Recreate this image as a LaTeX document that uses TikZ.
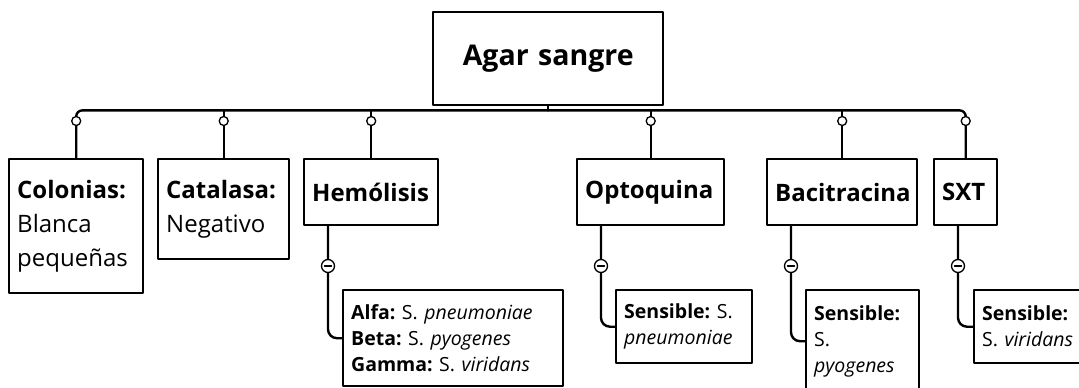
\documentclass[tikz,border=0pt]{standalone}
\usepackage{fontspec}
\setmainfont{Open Sans}
\usepackage{tikz}
\usetikzlibrary{calc}
\frenchspacing

\begin{document}
\begin{tikzpicture}[line cap=round,line join=round,x=1pt,y=-1pt,
  box/.style={draw,line width=2.4pt,anchor=north west,align=left,inner ysep=0pt,inner xsep=8pt},
  head/.style={box,font=\fontsize{24}{34}\selectfont},
  leaf/.style={box,font=\fontsize{19.5}{26}\selectfont},
  wire/.style={line width=2.4pt},
  knob/.style={circle,draw,line width=1.3pt,fill=white,inner sep=0pt,minimum size=9pt},
  minus/.style={circle,draw,line width=1.3pt,fill=white,inner sep=0pt,minimum size=13pt,
    path picture={\draw[line width=1.4pt] ([xshift=-3.5pt]path picture bounding box.center)
      -- ([xshift=3.5pt]path picture bounding box.center);}}]
\useasboundingbox (0,0) rectangle (1079,388);

% top node
\node [box,align=center,text width=214pt,minimum height=93pt,font=\fontsize{28.5}{32}\selectfont\bfseries]
  (root) at (432,11) {Agar sangre};

% tests
\node [head,text width=118pt,minimum height=134pt] (colonias) at (8,158)
  {\textbf{Colonias:}\\Blanca\\pequeñas};
\node [head,text width=115pt,minimum height=100pt] (catalasa) at (157,158)
  {\textbf{Catalasa:}\\Negativo};
\node [head,text width=118pt,minimum height=66pt] (hemolisis) at (303,158) {\textbf{Hemólisis}};
\node [head,text width=131pt,minimum height=66pt] (optoquina) at (576,158) {\textbf{Optoquina}};
\node [head,text width=134pt,minimum height=66pt] (bacitracina) at (766,158) {\textbf{Bacitracina}};
\node [head,text width=47pt,minimum height=66pt] (sxt) at (933,158) {\textbf{SXT}};

% results
\node [leaf,text width=204pt,minimum height=96pt] (hleaf) at (342,289)
  {\textbf{Alfa:} S. \textit{pneumoniae}\\\textbf{Beta:} S. \textit{pyogenes}\\\textbf{Gamma:} S. \textit{viridans}};
\node [leaf,text width=120pt,minimum height=73pt] (oleaf) at (615,289)
  {\textbf{Sensible:} S.\\\textit{pneumoniae}};
\node [leaf,text width=97pt,minimum height=102pt] (bleaf) at (805,289)
  {\textbf{Sensible:}\\S.\\\textit{pyogenes}};
\node [leaf,text width=114pt,minimum height=73pt] (sleaf) at (973,289)
  {\textbf{Sensible:}\\S. \textit{viridans}};

\coordinate (bus) at ($(root.south)+(0,4)$);
\coordinate (knobrow) at (0,121);
\coordinate (minusrow) at (0,266);

% bus
\draw [wire] (root.south) -- (bus);
\draw [wire,rounded corners=6pt] (colonias.north) -- (colonias.north |- bus)
  -- (sxt.north |- bus) -- (sxt.north);
\foreach \n in {catalasa,hemolisis,optoquina,bacitracina}
  \draw [wire] (\n.north) -- (\n.north |- bus);
\foreach \n in {colonias,catalasa,hemolisis,optoquina,bacitracina,sxt}
  \node [knob] (k-\n) at (\n.north |- knobrow) {};

% results wires
\foreach \p/\l in {hemolisis/hleaf,optoquina/oleaf,bacitracina/bleaf,sxt/sleaf}{
  \draw [wire,rounded corners=9pt] ([xshift=25pt]\p.south west) |- (\l.west);
  \node [minus] (m-\p) at ([xshift=25pt]\p.south west |- minusrow) {};
}
\end{tikzpicture}
\end{document}
